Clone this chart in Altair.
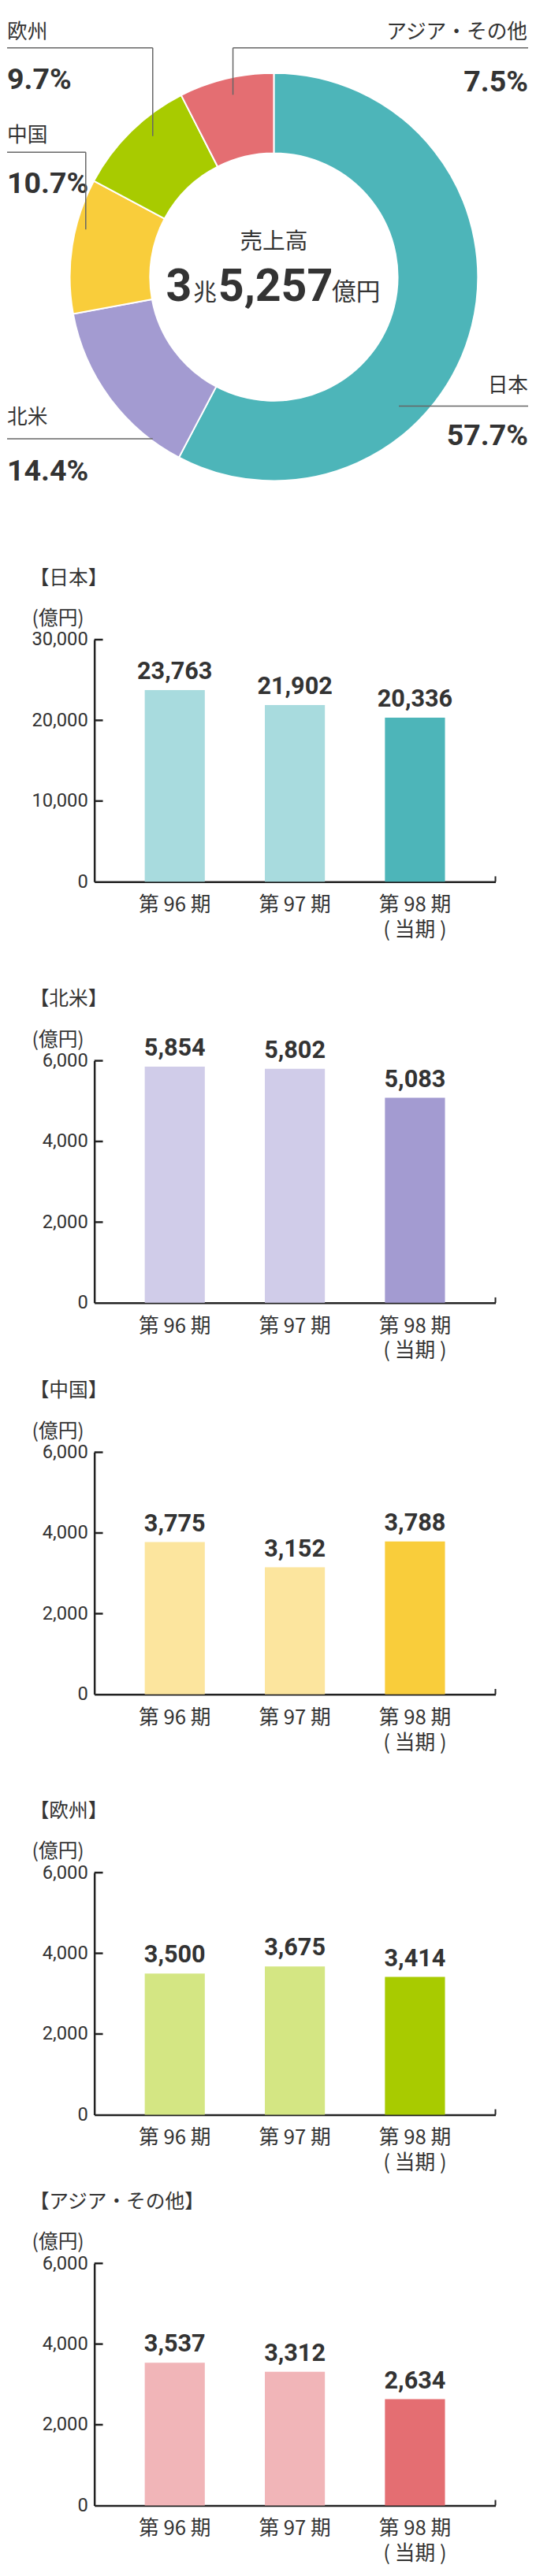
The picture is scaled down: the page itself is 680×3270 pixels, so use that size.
import altair as alt
import pandas as pd

# ---------------- data ----------------
regions = ["日本", "北米", "中国", "欧州", "アジア・その他"]
shares = [57.7, 14.4, 10.7, 9.7, 7.5]
dark_colors = ["#4DB5B9", "#A39BD1", "#F9CD3B", "#A8CB00", "#E46E72"]
light_colors = ["#A8DBDE", "#D0CCE9", "#FCE59E", "#D4E683", "#F1B5B8"]

total_title = "売上高"
total_parts = ["3", "兆", "5,257", "億円"]

periods = ["第 96 期", "第 97 期", "第 98 期"]
current_note = "( 当期 )"
unit_label = "(億円)"

sales_japan = [23763, 21902, 20336]
sales_north_america = [5854, 5802, 5083]
sales_china = [3775, 3152, 3788]
sales_europe = [3500, 3675, 3414]
sales_asia_other = [3537, 3312, 2634]

ticks_japan = [0, 10000, 20000, 30000]
ticks_other = [0, 2000, 4000, 6000]

# ---------------- style ----------------
NUM = "Roboto, sans-serif"
CJK = "Noto Sans CJK JP, sans-serif"
INK = "#333333"
AXIS = "#222222"
LEAD = "#666666"
OX, OY = 121, 8  # page position of the panel origin (x) / chart top (y)


def text_layer(s, x, y, size, font, align="left", weight="normal", baseline="middle", color=INK):
    return alt.Chart(pd.DataFrame({"t": [s]})).mark_text(
        align=align, baseline=baseline, font=font, fontSize=size,
        fontWeight=weight, color=color
    ).encode(text="t:N", x=alt.value(x), y=alt.value(y))


def rule_layer(x, x2, y, y2, color=LEAD, width=1.5):
    return alt.Chart(pd.DataFrame({"a": [0]})).mark_rule(
        color=color, strokeWidth=width
    ).encode(x=alt.value(x), x2=alt.value(x2), y=alt.value(y), y2=alt.value(y2))


# ---------------- donut panel ----------------
DW, DH = 559, 565
CX, CY = 351.5 - OX, 336 - OY
donut_df = pd.DataFrame({"region": regions, "share": shares, "rank": list(range(len(regions)))})
arc = alt.Chart(donut_df).mark_arc(
    innerRadius=159, outerRadius=262, stroke="white", strokeWidth=2
).encode(
    theta=alt.Theta("share:Q", stack=True),
    order=alt.Order("rank:Q", sort="ascending"),
    color=alt.Color("region:N", scale=alt.Scale(domain=regions, range=dark_colors), legend=None),
    x=alt.value(CX), y=alt.value(CY),
)

pct = [f"{v}%" for v in shares]
L = -112
PS = 38
RS = 26
donut_layers = [
    arc,
    # 欧州
    text_layer(regions[3], L, 13.5, RS, CJK),
    text_layer(pct[3], L, 75.5, PS, NUM, weight="bold"),
    rule_layer(L, 75, 33.7, 33.7), rule_layer(75, 75, 33.7, 147),
    # 中国
    text_layer(regions[2], L, 146, RS, CJK),
    text_layer(pct[2], L, 209, PS, NUM, weight="bold"),
    rule_layer(L, -11, 167.7, 167.7), rule_layer(-11, -11, 167.7, 267),
    # 北米
    text_layer(regions[1], L, 509, RS, CJK),
    text_layer(pct[1], L, 578.5, PS, NUM, weight="bold"),
    rule_layer(L, 75, 536, 536),
    # アジア・その他
    text_layer(regions[4], 556, 13.5, RS, CJK, align="right"),
    text_layer(pct[4], 557, 79, PS, NUM, align="right", weight="bold"),
    rule_layer(178, 557, 33.7, 33.7), rule_layer(178, 178, 33.7, 94),
    # 日本
    text_layer(regions[0], 557, 468, RS, CJK, align="right"),
    text_layer(pct[0], 557, 533, PS, NUM, align="right", weight="bold"),
    rule_layer(391, 557, 494, 494),
    # center
    text_layer(total_title, CX, 283.5, 29, CJK, align="center"),
    text_layer(total_parts[0], 92, 359, 58, NUM, weight="bold", baseline="alphabetic"),
    text_layer(total_parts[1], 127, 357.5, 30, CJK, baseline="alphabetic"),
    text_layer(total_parts[2], 159, 359, 58, NUM, weight="bold", baseline="alphabetic"),
    text_layer(total_parts[3], 305, 357.5, 31, CJK, baseline="alphabetic"),
]
donut_panel = alt.layer(*donut_layers).properties(width=DW, height=DH)


# ---------------- bar panels ----------------
PW, PH = 515, 311


def bar_panel(title, values, ticks, light, dark, H):
    top = H - PH
    df = pd.DataFrame({"period": periods, "value": values, "fill": [light, light, dark]})
    y_scale = alt.Scale(domain=[0, ticks[-1]], range=[H, top], nice=False, zero=True)
    x_scale = alt.Scale(domain=periods, paddingInner=0.5, paddingOuter=0.42)
    label_expr = (
        f"datum.value == '{periods[-1]}' ? ['{periods[-1]}', '{current_note}'] : datum.value"
    )
    x_axis = alt.Axis(
        title=None, labelAngle=0, labelExpr=label_expr, labelFont=CJK, labelFontSize=26,
        labelColor=INK, labelPadding=17, labelBaseline="top", labelLineHeight=32,
        ticks=False, tickSize=0, domainColor=AXIS, domainWidth=2.5,
    )
    y_axis = alt.Axis(
        title=None, values=ticks, labelExpr="format(datum.value, ',')",
        labelFont=NUM, labelFontSize=24, labelFontWeight="normal",
        labelColor=INK, labelPadding=8.5, ticks=False, tickSize=0, grid=False,
        domainColor=AXIS, domainWidth=2.5,
    )
    bars = alt.Chart(df).mark_bar().encode(
        x=alt.X("period:N", scale=x_scale, sort=periods, axis=x_axis),
        y=alt.Y("value:Q", scale=y_scale, axis=y_axis),
        color=alt.Color("fill:N", scale=None),
    )
    labels = alt.Chart(df).mark_text(
        font=NUM, fontWeight="bold", fontSize=31, baseline="alphabetic",
        dy=-14, color=INK,
    ).encode(
        x=alt.X("period:N", scale=x_scale, sort=periods, axis=x_axis),
        y=alt.Y("value:Q", scale=y_scale, axis=y_axis),
        text=alt.Text("value:Q", format=","),
    )
    tick_df = pd.DataFrame({"value": ticks[1:]})
    tick_marks = alt.Chart(tick_df).mark_rule(color=AXIS, strokeWidth=2.5).encode(
        y=alt.Y("value:Q", scale=y_scale, axis=y_axis),
        x=alt.value(0), x2=alt.value(11),
    )
    end_tick = rule_layer(PW, PW, H, H - 7, color=AXIS, width=2)
    t1 = text_layer(f"【{title}】", -83, top - 79, 25, CJK)
    t2 = text_layer(unit_label, -80, top - 27, 25, CJK)
    return alt.layer(bars, labels, tick_marks, end_tick, t1, t2).properties(width=PW, height=H)


panels = [
    bar_panel(regions[0], sales_japan, ticks_japan, light_colors[0], dark_colors[0], 540),
    bar_panel(regions[1], sales_north_america, ticks_other, light_colors[1], dark_colors[1], 541),
    bar_panel(regions[2], sales_china, ticks_other, light_colors[2], dark_colors[2], 503),
    bar_panel(regions[3], sales_europe, ticks_other, light_colors[3], dark_colors[3], 540),
    bar_panel(regions[4], sales_asia_other, ticks_other, light_colors[4], dark_colors[4], 502),
]

chart = alt.vconcat(
    donut_panel, *panels, spacing=0, bounds="flush"
).properties(
    padding=0, background="white"
).configure_view(stroke=None)

chart.save("out.html", embed_options={"renderer": "svg", "actions": False})
